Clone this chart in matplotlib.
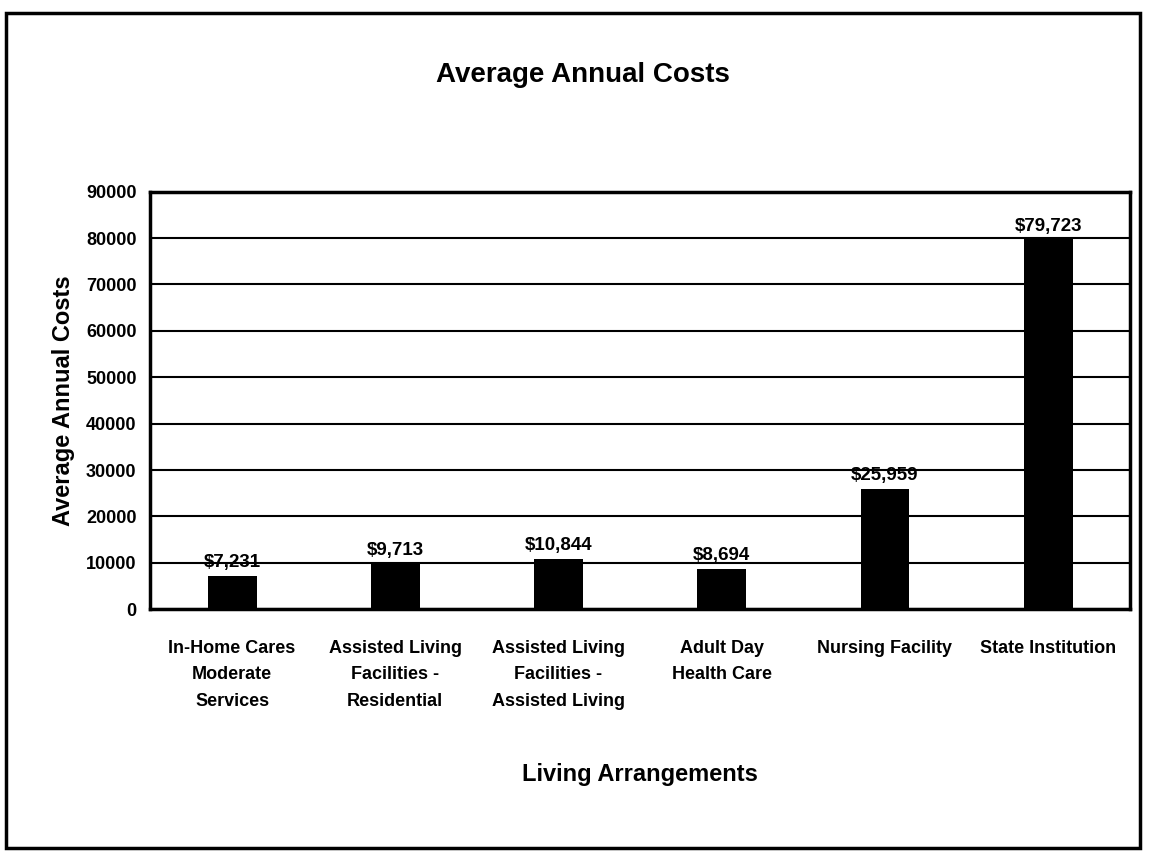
import matplotlib.pyplot as plt
from matplotlib.patches import Rectangle

plt.rcParams['font.family'] = ['Liberation Sans', 'DejaVu Sans']

categories = ['In-Home Cares\nModerate\nServices',
              'Assisted Living\nFacilities -\nResidential',
              'Assisted Living\nFacilities -\nAssisted Living',
              'Adult Day\nHealth Care',
              'Nursing Facility',
              'State Institution']
costs = [7231, 9713, 10844, 8694, 25959, 79723]
yticks = list(range(0, 90001, 10000))

fig = plt.figure(figsize=(11.66, 8.52), dpi=100)
ax = fig.add_axes([0.129, 0.285, 0.84, 0.49])

x = range(len(categories))
ax.bar(x, costs, width=0.3, color='black', zorder=3)
for xi, v in zip(x, costs):
    ax.text(xi, v + 1000, '${:,}'.format(v), ha='center', va='bottom',
            fontsize=13.5, fontweight='bold', zorder=4)

ax.set_ylim(0, 90000)
ax.set_xlim(-0.5, len(categories) - 0.5)
ax.set_yticks(yticks)
ax.set_yticklabels([str(t) for t in yticks], fontsize=13, fontweight='bold')
ax.set_xticks(list(x))
ax.set_xticklabels(categories, fontsize=13, fontweight='bold', linespacing=1.75)
ax.tick_params(axis='x', length=0, pad=22)
ax.tick_params(axis='y', length=0, pad=10)
ax.yaxis.grid(True, color='black', linewidth=1.5, zorder=0)
for s in ax.spines.values():
    s.set_linewidth(2.5)
    s.set_color('black')

ax.set_ylabel('Average Annual Costs', fontsize=17, fontweight='bold', labelpad=8)
ax.set_xlabel('Living Arrangements', fontsize=17, fontweight='bold', labelpad=38)
fig.text(0.50, 0.912, 'Average Annual Costs', ha='center', va='center',
         fontsize=20, fontweight='bold')

# outer frame around the whole chart
fig.patches.append(Rectangle((0.005, 0.005), 0.973, 0.98, transform=fig.transFigure,
                             fill=False, edgecolor='black', linewidth=2.5))

plt.savefig('out.png', dpi=100)
plt.close()
